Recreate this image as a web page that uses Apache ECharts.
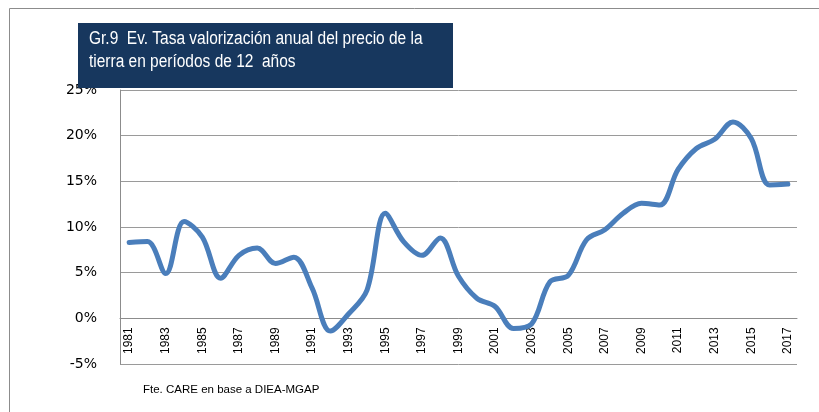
<!DOCTYPE html>
<html>
<head>
<meta charset="utf-8">
<script src="https://cdn.jsdelivr.net/npm/echarts@6/dist/echarts.min.js"></script>
<style>html,body{margin:0;padding:0;background:#fff;}#c{width:819px;height:412px;}</style>
</head>
<body>
<div id="c"></div>
<script>
const years = ['1981','1982','1983','1984','1985','1986','1987','1988','1989','1990','1991','1992','1993','1994','1995','1996','1997','1998','1999','2000','2001','2002','2003','2004','2005','2006','2007','2008','2009','2010','2011','2012','2013','2014','2015','2016','2017'];
const rate = [8.3,8.4,4.9,10.6,8.9,4.4,6.9,7.7,6.0,6.7,3.3,-1.4,0.5,3.1,11.5,8.4,6.9,8.8,4.6,2.2,1.3,-1.1,-0.6,4.0,4.7,8.6,9.7,11.5,12.6,12.4,16.3,18.6,19.6,21.5,19.7,14.6,14.7];
const titleLines = ['Gr.9  Ev. Tasa valorización anual del precio de la','tierra en períodos de 12  años'];
const sourceText = 'Fte. CARE en base a DIEA-MGAP';

const gridTop = 90, gridBottom = 48, H = 412;
const plotH = H - gridTop - gridBottom;
const zeroOffset = -plotH * 5 / 30;

const chart = echarts.init(document.getElementById('c'));
chart.setOption({
  animation: false,
  backgroundColor: '#fff',
  grid: {left: 120, right: 22, top: gridTop, bottom: gridBottom},
  xAxis: {
    type: 'category', data: years, boundaryGap: true, offset: zeroOffset,
    axisLine: {onZero: false, lineStyle: {color: '#8c8c8c', width: 1}},
    axisTick: {show: false},
    axisLabel: {rotate: 90, interval: 1, margin: 9, color: '#000', fontSize: 12, fontFamily: '"Liberation Sans",sans-serif'},
    splitLine: {show: false}
  },
  yAxis: {
    type: 'value', min: -5, max: 25, interval: 5,
    axisLine: {show: true, lineStyle: {color: '#8c8c8c', width: 1}},
    axisTick: {show: false},
    axisLabel: {formatter: '{value}%', margin: 23, color: '#000', fontSize: 14, fontFamily: '"DejaVu Sans",sans-serif'},
    splitLine: {lineStyle: {color: '#9a9a9a', width: 1}}
  },
  series: [{
    type: 'line', data: rate, smooth: 0.35, symbol: 'none',
    lineStyle: {color: '#4a7ebb', width: 5, cap: 'round', join: 'round'}
  }],
  graphic: [
    {type: 'rect', shape: {x: 9.5, y: 8.5, width: 830, height: 420}, style: {fill: 'none', stroke: '#8c8c8c', lineWidth: 1}, silent: true, z: -1},
    {type: 'rect', shape: {x: 78, y: 23, width: 375, height: 65}, style: {fill: '#17375e'}, z: 10},
    {type: 'text', x: 89, y: 30, scaleX: 0.86, style: {text: titleLines[0], fill: '#fff', font: '18px "Liberation Sans",sans-serif'}, z: 11},
    {type: 'text', x: 89, y: 53, scaleX: 0.86, style: {text: titleLines[1], fill: '#fff', font: '18px "Liberation Sans",sans-serif'}, z: 11},
    {type: 'text', x: 143, y: 384, style: {text: sourceText, fill: '#000', font: '11.5px "Liberation Sans",sans-serif'}, z: 11}
  ]
});
</script>
</body>
</html>
